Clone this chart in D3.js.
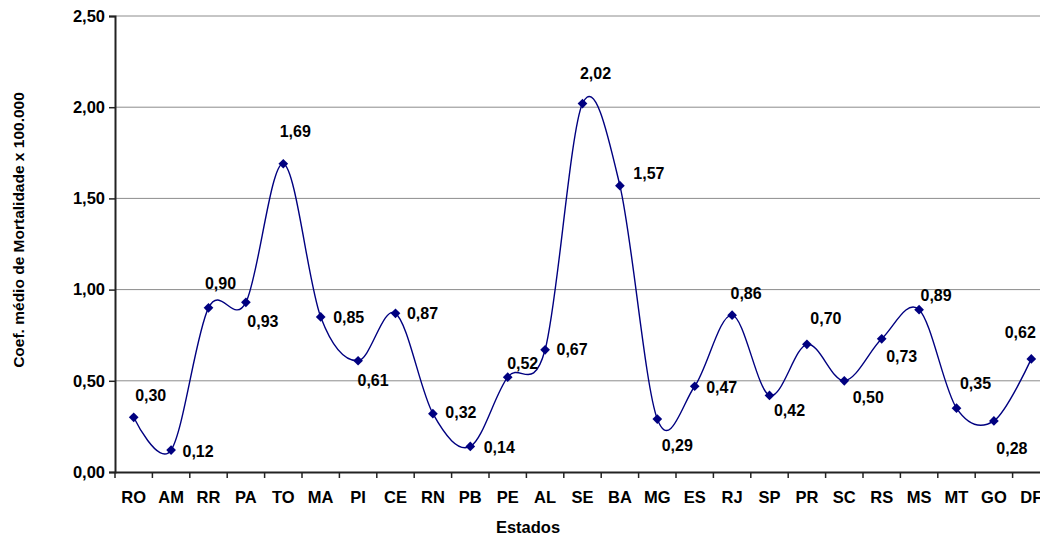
<!DOCTYPE html>
<html>
<head>
<meta charset="utf-8">
<script src="https://cdn.jsdelivr.net/npm/d3@7"></script>
<style>
  body { margin: 0; background: #fff; }
  svg { display: block; overflow: hidden; }
  text { font-family: "Liberation Sans", Arial, sans-serif; font-weight: bold; fill: #000; }
</style>
</head>
<body>
<div id="chart"></div>
<script>
const estados = ["RO", "AM", "RR", "PA", "TO", "MA", "PI", "CE", "RN", "PB", "PE", "AL", "SE",
                 "BA", "MG", "ES", "RJ", "SP", "PR", "SC", "RS", "MS", "MT", "GO", "DF"];
const coeficientes = [0.30, 0.12, 0.90, 0.93, 1.69, 0.85, 0.61, 0.87, 0.32, 0.14, 0.52, 0.67, 2.02,
                      1.57, 0.29, 0.47, 0.86, 0.42, 0.70, 0.50, 0.73, 0.89, 0.35, 0.28, 0.62];
const yTicks = [0, 0.5, 1, 1.5, 2, 2.5];

// where each value label sits relative to its marker (Excel placed them by hand)
const labelOffsets = [
  [17, -22], [27, 1], [12, -24], [17, 19], [12, -32], [28, 0], [15, 20], [27, 0], [28, -1],
  [29, 1], [15, -14], [27, 0], [13, -30], [29, -12], [20, 26], [27, 1], [14, -22], [20, 15],
  [19, -26], [24, 17], [20, 18], [17, -14], [19, -25], [18, 27], [-11, -27]
];

const margin = { top: 16, right: -10, bottom: 67, left: 115 },
      W = 1040, H = 539,
      width = W - margin.left - margin.right,
      height = H - margin.top - margin.bottom;

const svg = d3.select("#chart")
  .append("svg")
  .attr("width", W)
  .attr("height", H)
  .append("g")
  .attr("transform", `translate(${margin.left},${margin.top})`);

const x = d3.scaleBand().domain(estados).range([0, width]);
const y = d3.scaleLinear().domain([0, 2.5]).range([height, 0]);
const fmt = v => d3.format(".2f")(v).replace(".", ",");

// gridlines
svg.append("g")
  .selectAll("line")
  .data(yTicks.slice(1))
  .enter()
  .append("line")
  .attr("x1", 0)
  .attr("x2", width)
  .attr("y1", d => y(d))
  .attr("y2", d => y(d))
  .attr("stroke", "#8c8c8c")
  .attr("stroke-width", 1);

// axes
const yAxis = svg.append("g")
  .call(d3.axisLeft(y).tickValues(yTicks).tickFormat(fmt).tickSize(6).tickPadding(4));
const xAxis = svg.append("g")
  .attr("transform", `translate(0,${height})`)
  .call(d3.axisBottom(x).tickSize(0).tickPadding(19));

[yAxis, xAxis].forEach(g => {
  g.select(".domain").attr("stroke", "#222").attr("stroke-width", 2);
  g.selectAll(".tick line").attr("stroke", "#222").attr("stroke-width", 1.5);
  g.selectAll("text").attr("fill", "#000").style("font-family", "'Liberation Sans', Arial, sans-serif")
    .style("font-weight", "bold");
});
yAxis.selectAll("text").style("font-size", "16.5px");
xAxis.selectAll("text").style("font-size", "16.5px");

// x tick marks on band boundaries
xAxis.append("g")
  .selectAll("line")
  .data(estados)
  .enter()
  .append("line")
  .attr("x1", d => x(d))
  .attr("x2", d => x(d))
  .attr("y1", 0)
  .attr("y2", 6)
  .attr("stroke", "#222")
  .attr("stroke-width", 1.5);

// axis titles
svg.append("text")
  .attr("text-anchor", "middle")
  .attr("transform", "rotate(-90)")
  .attr("x", -(230 - margin.top))
  .attr("y", 24 - margin.left)
  .style("font-size", "15.5px")
  .text("Coef. médio de Mortalidade x 100.000");

svg.append("text")
  .attr("text-anchor", "middle")
  .attr("x", 528 - margin.left)
  .attr("y", height + 61)
  .style("font-size", "16.5px")
  .text("Estados");

const data = estados.map((e, i) => ({ estado: e, v: coeficientes[i], off: labelOffsets[i] }));
const cx = d => x(d.estado) + x.bandwidth() / 2;

const line = d3.line()
  .x(cx)
  .y(d => y(d.v))
  .curve(d3.curveCardinal.tension(0));

svg.append("path")
  .datum(data)
  .attr("fill", "none")
  .attr("stroke", "#000080")
  .attr("stroke-width", 1.4)
  .attr("d", line);

svg.selectAll(".marker")
  .data(data)
  .enter()
  .append("path")
  .attr("class", "marker")
  .attr("d", d3.symbol(d3.symbolDiamond2, 60))
  .attr("transform", d => `translate(${cx(d)},${y(d.v)})`)
  .attr("fill", "#000080");

svg.selectAll(".value-label")
  .data(data)
  .enter()
  .append("text")
  .attr("class", "value-label")
  .attr("text-anchor", "middle")
  .attr("dy", "0.35em")
  .attr("x", d => cx(d) + d.off[0])
  .attr("y", d => y(d.v) + d.off[1])
  .style("font-size", "16px")
  .text(d => fmt(d.v));
</script>
</body>
</html>
